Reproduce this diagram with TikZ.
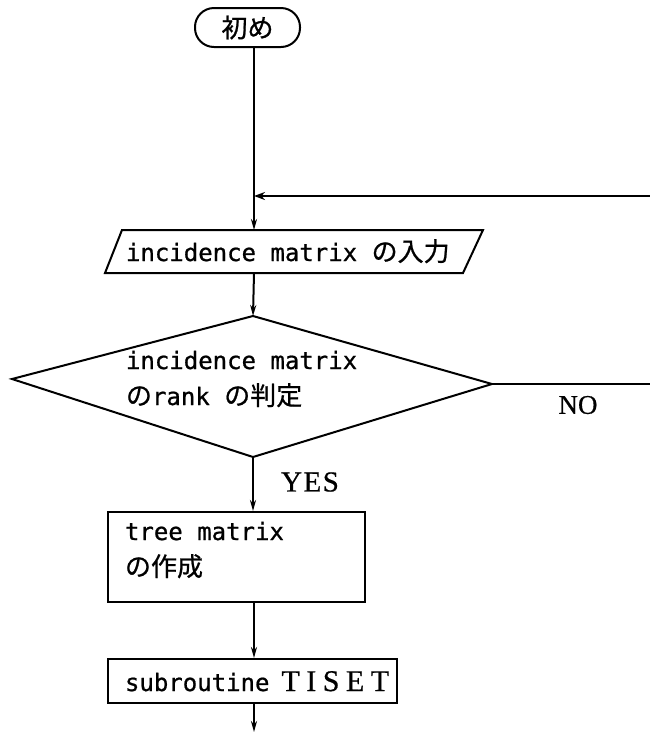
\documentclass[tikz,border=0pt]{standalone}
\usepackage{fontspec}
\setmainfont{Liberation Serif}[FakeBold=0.6]
\newfontfamily\monof{DejaVu Sans Mono}[FakeBold=0.8]
\newfontfamily\cjkf{Noto Sans CJK JP}[FakeBold=0.8]
\usetikzlibrary{arrows.meta,calc}
\newcommand\jtext[1]{{\cjkf\fontsize{26}{30}\selectfont #1}}
\newcommand\lsp{\hspace{6.5pt}}
\begin{document}
\begin{tikzpicture}[x=1pt,y=-1pt,line width=2pt,
  flow/.style={-{Stealth[length=11pt,width=6pt]}},
  back/.style={-{Stealth[open,length=11pt,width=8pt]}},
  mono/.style={font=\monof\fontsize{24}{28}\selectfont,inner sep=0pt},
  serif/.style={font=\fontsize{27}{30}\selectfont,inner sep=0pt},
  boxnode/.style={draw,rectangle,inner sep=0pt}]
\useasboundingbox (0,0) rectangle (650,732);

% terminal
\node[draw,rounded corners=19pt,minimum width=105pt,minimum height=39pt,inner sep=0pt] (start) at (247.5,27.5) {\jtext{初め}};

\coordinate (axis) at (254,0);

% input parallelogram
\coordinate (pTL) at (122,230);
\coordinate (pTR) at (483,230);
\coordinate (pBR) at (463,273);
\coordinate (pBL) at (105,273);
\draw (pTL) -- (pTR) -- (pBR) -- (pBL) -- cycle;
\node[mono,anchor=base west] (ptext) at (125,261) {incidence matrix \jtext{の入力}};

% decision diamond
\coordinate (dT) at (253,316);
\coordinate (dR) at (492,384);
\coordinate (dB) at (253,457);
\coordinate (dL) at (12,379);
\draw (dT) -- (dR) -- (dB) -- (dL) -- cycle;
\node[mono,anchor=base west] (dtext1) at (125,369) {incidence matrix};
\node[mono,anchor=base west] (dtext2) at (125,405) {\jtext{の}rank \jtext{の判定}};

% process box
\node[boxnode,minimum width=257pt,minimum height=90pt] (tree) at (236.5,557) {};
\node[mono,anchor=base west] (ttext1) at (124,540) {tree matrix};
\node[mono,anchor=base west] (ttext2) at (124,576) {\jtext{の作成}};

% subroutine box
\node[boxnode,minimum width=289pt,minimum height=44pt] (sub) at (252.5,681) {};
\node[mono,anchor=base west] (stext) at (124,691) {subroutine\hspace{12pt}{\rmfamily\fontsize{30}{32}\selectfont T\lsp I\lsp S\lsp E\lsp T}};

% labels
\node[serif,font=\fontsize{29}{30}\selectfont] (yes) at (310,482) {Y\hspace{1.5pt}E\hspace{1.5pt}S};
\node[serif] (no) at (578,405) {NO};

% connectors
\coordinate (noEnd) at (650,384);
\coordinate (backStart) at (650,196);
\coordinate (exit) at (254,732);
\draw[flow] (start.south -| axis) -- (pTL -| axis);
\draw[flow] (pBL -| axis) -- (dT);
\draw[flow] (dB) -- (tree.north -| dB);
\draw[flow] (tree.south -| axis) -- (sub.north -| axis);
\draw[flow] (sub.south -| axis) -- (exit);
\draw (dR) -- (noEnd);
\draw[back] (backStart) -- (backStart -| axis);
\end{tikzpicture}
\end{document}
